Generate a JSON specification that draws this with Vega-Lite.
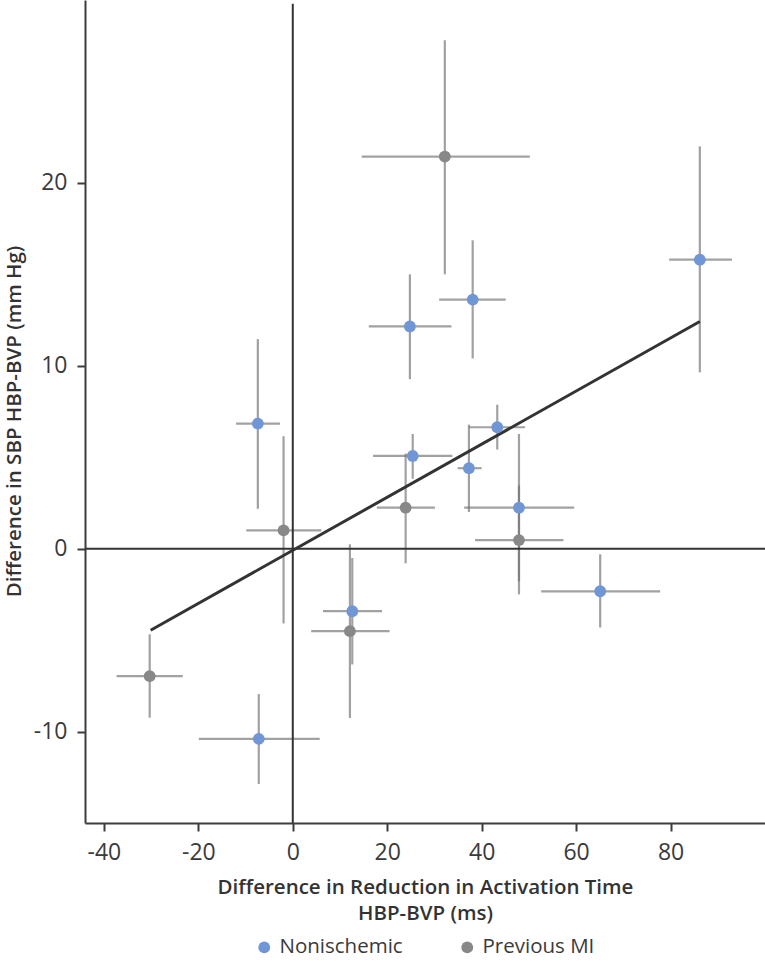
{
  "$schema": "https://vega.github.io/schema/vega-lite/v6.json",
  "width": 680,
  "height": 823,
  "autosize": "none",
  "padding": {"left": 85, "top": 0, "right": 0, "bottom": 138},
  "background": "white",
  "config": {
    "view": {"stroke": null},
    "font": "Open Sans",
    "axis": {
      "grid": false,
      "domainColor": "#3d3d3d",
      "domainWidth": 2,
      "tickColor": "#3d3d3d",
      "tickWidth": 2,
      "tickSize": 8,
      "labelFont": "Open Sans",
      "labelFontSize": 23,
      "labelColor": "#3a3a3a",
      "labelExpr": "replace(datum.label, '−', '-')",
      "titleFont": "Open Sans",
      "titleFontSize": 20.5,
      "titleFontWeight": 600,
      "titleColor": "#333333"
    },
    "legend": {
      "labelFont": "Open Sans",
      "labelFontSize": 20.5,
      "labelColor": "#3a3a3a"
    }
  },
  "datasets": {
    "pts": [
      {"group": "Nonischemic", "x": -7.4, "y": 6.84, "xlo": -12.0, "xhi": -2.7, "ylo": 2.18, "yhi": 11.46},
      {"group": "Nonischemic", "x": 24.8, "y": 12.15, "xlo": 16.1, "xhi": 33.6, "ylo": 9.27, "yhi": 15.0},
      {"group": "Nonischemic", "x": 25.4, "y": 5.07, "xlo": 17.0, "xhi": 33.8, "ylo": 3.82, "yhi": 6.27},
      {"group": "Nonischemic", "x": 43.3, "y": 6.64, "xlo": 37.3, "xhi": 49.2, "ylo": 5.42, "yhi": 7.87},
      {"group": "Nonischemic", "x": 37.3, "y": 4.4, "xlo": 34.9, "xhi": 40.0, "ylo": 2.0, "yhi": 6.78},
      {"group": "Nonischemic", "x": 47.9, "y": 2.24, "xlo": 36.3, "xhi": 59.6, "ylo": -1.78, "yhi": 6.27},
      {"group": "Nonischemic", "x": 65.1, "y": -2.33, "xlo": 52.6, "xhi": 77.8, "ylo": -4.31, "yhi": -0.31},
      {"group": "Nonischemic", "x": 38.1, "y": 13.62, "xlo": 31.0, "xhi": 45.1, "ylo": 10.4, "yhi": 16.86},
      {"group": "Nonischemic", "x": 86.2, "y": 15.8, "xlo": 79.7, "xhi": 93.0, "ylo": 9.64, "yhi": 22.0},
      {"group": "Nonischemic", "x": 12.6, "y": -3.42, "xlo": 6.4, "xhi": 18.9, "ylo": -6.33, "yhi": -0.51},
      {"group": "Nonischemic", "x": -7.2, "y": -10.4, "xlo": -19.9, "xhi": 5.7, "ylo": -12.87, "yhi": -7.95},
      {"group": "Previous MI", "x": -1.95, "y": 1.0, "xlo": -9.85, "xhi": 6.04, "ylo": -4.09, "yhi": 6.15},
      {"group": "Previous MI", "x": 23.9, "y": 2.24, "xlo": 17.8, "xhi": 30.1, "ylo": -0.8, "yhi": 5.2},
      {"group": "Previous MI", "x": 47.9, "y": 0.47, "xlo": 38.6, "xhi": 57.3, "ylo": -2.5, "yhi": 3.45},
      {"group": "Previous MI", "x": 32.2, "y": 21.44, "xlo": 14.6, "xhi": 50.2, "ylo": 15.0, "yhi": 27.8},
      {"group": "Previous MI", "x": 12.1, "y": -4.51, "xlo": 3.9, "xhi": 20.5, "ylo": -9.26, "yhi": 0.24},
      {"group": "Previous MI", "x": -30.3, "y": -6.97, "xlo": -37.3, "xhi": -23.3, "ylo": -9.24, "yhi": -4.68}
    ],
    "fit": [
      {"x": -30.1, "y": -4.46},
      {"x": 86.2, "y": 12.42}
    ],
    "zero": [{"v": 0}],
    "vline": [{"v": 0, "lo": -15, "hi": 29.8}]
  },
  "layer": [
    {
      "data": {"name": "pts"},
      "mark": {"type": "rule", "color": "#6e6e6e", "opacity": 0.65, "strokeWidth": 2.2},
      "encoding": {
        "x": {"field": "xlo", "type": "quantitative", "scale": {"domain": [-44, 100], "nice": false, "zero": false},
          "axis": {"values": [-40, -20, 0, 20, 40, 60, 80], "labelPadding": 10, "title": ["Difference in Reduction in Activation Time", "HBP-BVP (ms)"], "titlePadding": 13, "titleLineHeight": 26}},
        "x2": {"field": "xhi"},
        "y": {"field": "y", "type": "quantitative", "scale": {"domain": [-15, 30], "nice": false, "zero": false},
          "axis": {"values": [-10, 0, 10, 20], "labelPadding": 10, "title": "Difference in SBP HBP-BVP (mm Hg)", "titleX": -71, "titleY": 421, "titleAngle": -90, "titleAlign": "center", "titleBaseline": "middle"}}
      }
    },
    {
      "data": {"name": "pts"},
      "mark": {"type": "rule", "color": "#6e6e6e", "opacity": 0.65, "strokeWidth": 2.2},
      "encoding": {
        "x": {"field": "x", "type": "quantitative"},
        "y": {"field": "ylo", "type": "quantitative"},
        "y2": {"field": "yhi"}
      }
    },
    {
      "data": {"name": "zero"},
      "mark": {"type": "rule", "color": "#333333", "strokeWidth": 2},
      "encoding": {"y": {"field": "v", "type": "quantitative"}}
    },
    {
      "data": {"name": "vline"},
      "mark": {"type": "rule", "color": "#333333", "strokeWidth": 2},
      "encoding": {
        "x": {"field": "v", "type": "quantitative"},
        "y": {"field": "lo", "type": "quantitative"},
        "y2": {"field": "hi"}
      }
    },
    {
      "data": {"name": "fit"},
      "mark": {"type": "line", "color": "#333333", "strokeWidth": 3},
      "encoding": {
        "x": {"field": "x", "type": "quantitative"},
        "y": {"field": "y", "type": "quantitative"}
      }
    },
    {
      "data": {"name": "pts"},
      "mark": {"type": "point", "filled": true, "opacity": 1, "size": 140, "shape": "circle"},
      "encoding": {
        "x": {"field": "x", "type": "quantitative"},
        "y": {"field": "y", "type": "quantitative"},
        "color": {"field": "group", "type": "nominal",
          "scale": {"domain": ["Nonischemic", "Previous MI"], "range": ["#7096d6", "#888888"]},
          "legend": {"title": null, "orient": "none", "direction": "horizontal", "legendX": 169, "legendY": 937, "columnPadding": 54, "symbolSize": 140, "symbolType": "circle", "labelOffset": 5}}
      }
    }
  ]
}
